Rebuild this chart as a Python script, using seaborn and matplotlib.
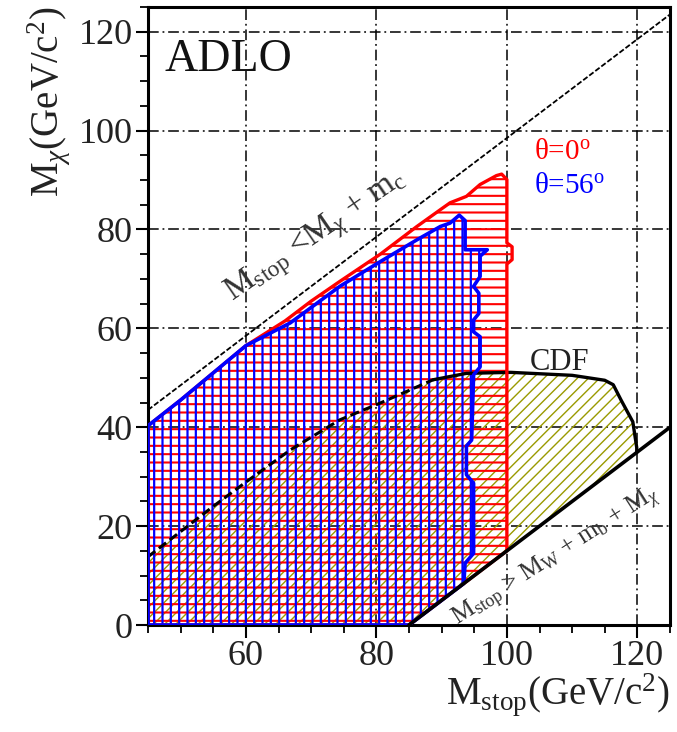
import matplotlib
matplotlib.use("Agg")
import matplotlib.pyplot as plt
import seaborn as sns
import numpy as np
import pandas as pd

# ---------------- data ----------------
# theta = 0 deg excluded region (red)
theta0_x = [45, 45, 50, 55, 60, 66, 70, 74.4, 80.6, 86.2, 89.8, 91.3, 93.8, 95.9, 98.4, 99.2,
            100, 100, 100.8, 100.8, 100, 100, 85, 45]
theta0_y = [0, 40.3, 45.5, 51, 56.5, 61.5, 65.5, 69.5, 75, 80.6, 84, 85.4, 86.7, 89.1, 90.9, 91.2,
            90.1, 77.3, 76.5, 73.9, 73, 15, 0, 0]

# theta = 56 deg excluded region (blue)
theta56_x = [45, 45, 50, 55, 60, 66.8, 74.4, 80.6, 86.2, 89.8, 91.3, 92.7, 93.6, 93.6, 97.0,
             95.9, 95.9, 94.9, 95.7, 95.7, 94.9, 94.9, 95.9, 95.9, 94.9, 94.6, 93.8, 93.8,
             94.9, 94.9, 93.6, 93.4, 85, 45]
theta56_y = [0, 40.3, 45.5, 51, 56.5, 61.1, 68.5, 73.5, 77.9, 80.6, 81.3, 82.9, 81.8, 75.9, 75.9,
             74.6, 70.5, 68.5, 67.1, 63.0, 61.7, 59.3, 58.3, 52.2, 50.6, 37.4, 36.2, 30.4,
             28.7, 14.5, 12.5, 8.4, 0, 0]

# CDF excluded region
cdf_x = [45, 50, 55, 60.1, 66.8, 74.4, 80.6, 88.7, 93.8, 100.6, 110, 115, 116.3, 117.5,
         119.3, 119.9, 119.9, 85, 45]
cdf_y = [13.8, 18.9, 24.0, 29.0, 35.4, 41.5, 44.9, 49.6, 50.9, 51.1, 50.5, 49.5, 48.6, 45.5,
         41.1, 35.9, 34.9, 0, 0]
cdf_dashed_n = 8   # first points of CDF edge drawn dashed

# kinematic limits
kin_upper_x = [45, 125]
kin_upper_y = [43.5, 123.5]
kin_lower_x = [85, 125]
kin_lower_y = [0, 40]

x_ticks = [60, 80, 100, 120]
y_ticks = [0, 20, 40, 60, 80, 100, 120]

# ---------------- style ----------------
sns.set_theme(style="ticks")
plt.rcParams["font.family"] = ["Liberation Serif", "DejaVu Serif"]
plt.rcParams["mathtext.fontset"] = "custom"
plt.rcParams["mathtext.rm"] = "Liberation Serif"
plt.rcParams["mathtext.it"] = "Liberation Serif:italic"
plt.rcParams["mathtext.bf"] = "Liberation Serif:bold"
plt.rcParams["hatch.linewidth"] = 1.4

fig = plt.figure(figsize=(6.77, 7.32), dpi=100)
ax = fig.add_axes([148 / 677, 107 / 732, 522 / 677, 618 / 732])
ax.set_facecolor("white")

RED = "#ff0000"
BLUE = "#0000ff"
OLIVE = "#9a9a00"


def hatched(xs, ys, color, hatch, z, hlw):
    p = ax.fill(xs, ys, facecolor="none", edgecolor=color, linewidth=0, hatch=hatch, zorder=z)[0]
    if hasattr(p, "set_hatch_linewidth"):
        p.set_hatch_linewidth(hlw)
    return p


hatched(cdf_x, cdf_y, OLIVE, "///", 1, 1.0)
hatched(theta0_x, theta0_y, RED, "--", 2, 1.5)
hatched(theta56_x, theta56_y, BLUE, "||", 3, 1.6)

# CDF edge
cdf_df = pd.DataFrame({"x": cdf_x, "y": cdf_y})
dash_part = cdf_df.iloc[:cdf_dashed_n]
solid_part = cdf_df.iloc[cdf_dashed_n - 1:len(cdf_x) - 2]
sns.lineplot(data=dash_part, x="x", y="y", sort=False, estimator=None, color="black",
             lw=2.2, ax=ax, zorder=4, linestyle=(0, (3, 1.5)))
sns.lineplot(data=solid_part, x="x", y="y", sort=False, estimator=None, color="black",
             lw=2.4, ax=ax, zorder=4)

# region outlines
sns.lineplot(x=theta0_x, y=theta0_y, sort=False, estimator=None, color=RED, lw=2.4, ax=ax, zorder=5)
sns.lineplot(x=theta56_x, y=theta56_y, sort=False, estimator=None, color=BLUE, lw=2.6, ax=ax, zorder=6)

# kinematic lines
sns.lineplot(x=kin_upper_x, y=kin_upper_y, sort=False, estimator=None, color="black", lw=1.3,
             ax=ax, zorder=7, linestyle=(0, (3, 1.2)))
sns.lineplot(x=kin_lower_x, y=kin_lower_y, sort=False, estimator=None, color="black", lw=2.6,
             ax=ax, zorder=7)

# axes
ax.set_xlim(45, 125)
ax.set_ylim(0, 125)
ax.set_xticks(x_ticks)
ax.set_yticks(y_ticks)
ax.set_xticks(np.arange(45, 126, 5), minor=True)
ax.set_yticks(np.arange(0, 126, 5), minor=True)
ax.set_xticklabels([str(v) for v in x_ticks])
ax.set_yticklabels([str(v) for v in y_ticks])
ax.tick_params(which="major", direction="out", length=9, width=1.5, labelsize=26, pad=2,
               color="black", labelcolor="#222222")
ax.tick_params(which="minor", direction="out", length=6, width=1.3, color="black")
ax.grid(True, which="major", color="black", lw=1.1, linestyle=(0, (7, 2.5, 1.2, 2.5)), zorder=0.5)
ax.set_axisbelow(True)
for s in ax.spines.values():
    s.set_visible(True)
    s.set_color("black")
    s.set_linewidth(2.2)

ax.set_xlabel(r"M$_{\rm stop}$(GeV/c$^{2}$)", fontsize=28, color="#222222", ha="right")
ax.xaxis.set_label_coords(1.0, -0.075)
ax.set_ylabel(r"M$_{\chi}$(GeV/c$^{2}$)", fontsize=28, color="#222222", ha="right")
ax.yaxis.set_label_coords(-0.145, 1.0)

# annotations
ax.text(47.6, 112, "ADLO", fontsize=33, color="#111111", ha="left", va="baseline")
ax.text(104.2, 94.3, r"θ=0$^{\rm o}$", fontsize=21, color=RED, ha="left", va="baseline")
ax.text(104.2, 87.3, r"θ=56$^{\rm o}$", fontsize=21, color=BLUE, ha="left", va="baseline")
ax.text(103.5, 51.5, "CDF", fontsize=22, color="#222222", ha="left", va="baseline")

ax.text(71.2, 77.6, r"M$_{\rm stop}$ <M$_{\chi}$ + m$_{\rm c}$", fontsize=24, color="#333333",
        rotation=34.5, rotation_mode="anchor", ha="center", va="baseline")
ax.text(108.0, 12.9, r"M$_{\rm stop}$ > M$_{\rm W}$ + m$_{\rm b}$ + M$_{\chi}$", fontsize=18.5,
        color="#333333", rotation=32.5, rotation_mode="anchor", ha="center", va="baseline")

fig.savefig("out.png", dpi=100, facecolor="white")
